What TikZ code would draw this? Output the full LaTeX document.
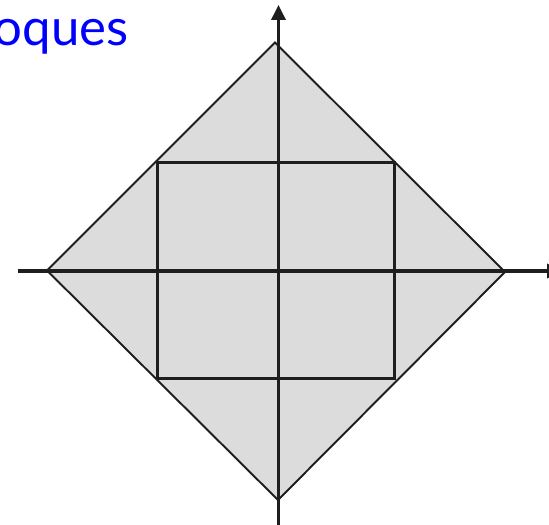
\documentclass[tikz,border=0pt]{standalone}
\usepackage{fontspec}
\setmainfont{Lato}
\usetikzlibrary{calc,positioning,arrows.meta}
\definecolor{TitleBlue}{HTML}{0000FF}
\definecolor{RegionGray}{HTML}{DCDCDC}
\definecolor{EdgeDark}{HTML}{1E1E1E}

\begin{document}
\begin{tikzpicture}[x=0.02cm,y=-0.02cm]
      \tikzset{
        axisline/.style={line width=1.8pt,draw=EdgeDark,-{Triangle[length=8.5pt,width=8pt]}},
        boxline/.style={line width=1.3pt,draw=EdgeDark},
        diamondline/.style={line width=1.1pt,draw=EdgeDark,fill=RegionGray}
      }
      \useasboundingbox (0,0) rectangle (549,525);
      \clip (0,0) rectangle (549,525);
      % vertices of the rotated square
      \coordinate (top) at (275,42.5);
      \coordinate (right) at (505,272);
      \coordinate (bottom) at (278,500);
      \coordinate (left) at (47,270.5);
      \draw[diamondline] (top) -- (right) -- (bottom) -- (left) -- cycle;
      % inner square
      \coordinate (sqa) at (157.5,162.5);
      \coordinate (sqb) at (394.5,378.5);
      \draw[boxline] (sqa) rectangle (sqb);
      % axes
      \coordinate (xstart) at (18,271);
      \coordinate (xend) at (562,271);
      \coordinate (ystart) at (278.5,530);
      \coordinate (yend) at (278.5,5);
      \draw[axisline] (xstart) -- (xend);
      \draw[axisline] (ystart) -- (yend);
      \node[
        anchor=base east,
        inner sep=0pt,
        text=TitleBlue,
        font=\fontsize{29}{34}\selectfont
      ] (title) at (129,45) {oques};
    \end{tikzpicture}
\end{document}
